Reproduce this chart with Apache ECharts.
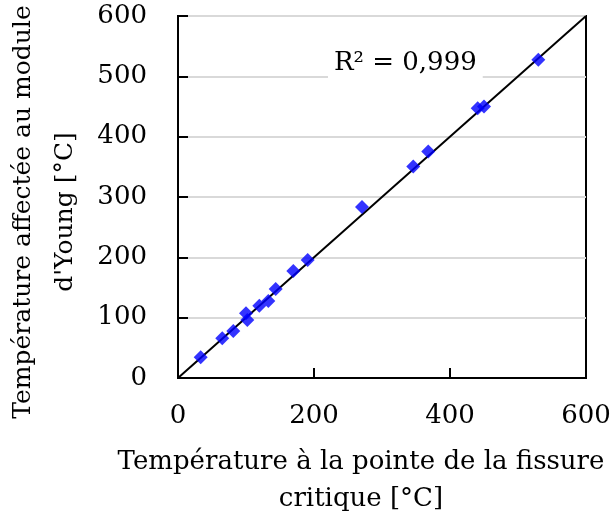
<!DOCTYPE html>
<html><head><meta charset="utf-8">
<script src="https://cdn.jsdelivr.net/npm/echarts@6/dist/echarts.min.js"></script>
<style>html,body{margin:0;padding:0;background:#fff}#c{width:612px;height:528px}</style>
</head><body><div id="c"></div>
<script>
const xValues = [33.4, 65.1, 81.3, 100.0, 101.9, 119.6, 132.8, 143.7, 169.6, 190.7, 270.6, 346.0, 368.0, 440.7, 450.0, 529.9];
const yValues = [34.3, 65.8, 77.9, 107.3, 96.2, 119.9, 127.7, 147.6, 177.4, 195.7, 283.6, 350.4, 375.3, 447.3, 450.0, 527.4];
const fitLine = [[0, 0], [600, 600]];
const xTitle = "Température à la pointe de la fissure\ncritique [°C]";
const yTitle = "Température affectée au module\nd'Young [°C]";
const r2Label = "R² = 0,999";

const FONT = "DejaVu Serif";
const FS = 26;
const chart = echarts.init(document.getElementById('c'));
chart.setOption({
  animation: false,
  grid: {left: 178, right: 26, top: 16, bottom: 150, show: true, borderColor: '#000', borderWidth: 2, containLabel: false, outerBoundsMode: 'none'},
  xAxis: {
    type: 'value', min: 0, max: 600, interval: 200,
    axisLine: {show: true, lineStyle: {color: '#000', width: 2}},
    axisTick: {show: true, inside: true, length: 10, lineStyle: {color: '#000', width: 2}},
    splitLine: {show: false},
    axisLabel: {color: '#000', fontFamily: FONT, fontSize: FS, margin: 25},
    name: xTitle, nameLocation: 'middle', nameGap: 66,
    nameTextStyle: {color: '#000', fontFamily: FONT, fontSize: FS, lineHeight: 37, padding: [0, 42, 0, 0]}
  },
  yAxis: {
    type: 'value', min: 0, max: 600, interval: 100,
    axisLine: {show: true, lineStyle: {color: '#000', width: 2}},
    axisTick: {show: true, inside: true, length: 10, lineStyle: {color: '#000', width: 2}},
    splitLine: {show: true, lineStyle: {color: '#d9d9d9', width: 2}},
    axisLabel: {color: '#000', fontFamily: FONT, fontSize: FS, margin: 31},
    name: yTitle, nameLocation: 'middle', nameGap: 85, nameRotate: 90,
    nameTextStyle: {color: '#000', fontFamily: FONT, fontSize: 25, lineHeight: 42, padding: [0, 30, 0, 0]}
  },
  graphic: [{
    type: 'text', left: 328, top: 48, z: 100,
    style: {text: r2Label, fill: '#000', font: FS + 'px "DejaVu Serif"', backgroundColor: '#fff', padding: [2, 6, 2, 6]}
  }],
  series: [
    {type: 'line', data: fitLine, symbol: 'none', lineStyle: {color: '#000', width: 2}, z: 2, silent: true},
    {type: 'scatter', data: xValues.map((x, i) => [x, yValues[i]]), symbol: 'diamond', symbolSize: [14, 14],
     itemStyle: {color: '#0000ff'}, z: 3}
  ]
});
</script></body></html>
